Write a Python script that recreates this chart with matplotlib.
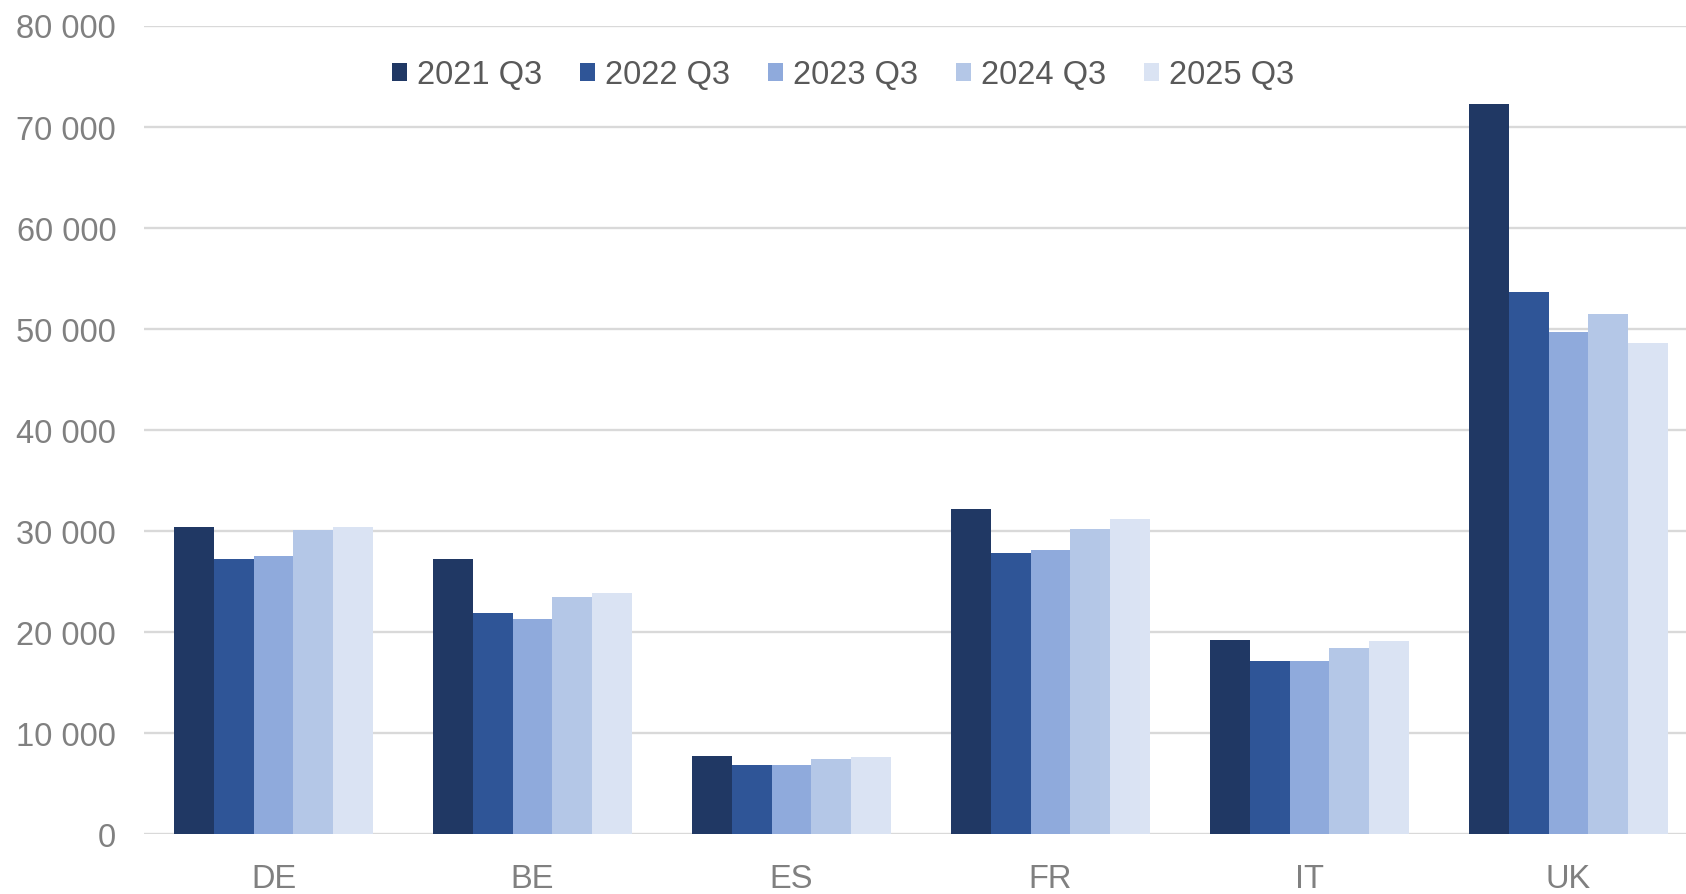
import matplotlib.pyplot as plt
from matplotlib.patches import Patch
import numpy as np

plt.rcParams['font.family'] = ['Liberation Sans', 'DejaVu Sans']

countries = ['DE', 'BE', 'ES', 'FR', 'IT', 'UK']
periods = ['2021 Q3', '2022 Q3', '2023 Q3', '2024 Q3', '2025 Q3']
v2021 = [30400, 27200, 7750, 32150, 19200, 72200]
v2022 = [27200, 21900, 6800, 27800, 17150, 53650]
v2023 = [27500, 21300, 6800, 28150, 17150, 49650]
v2024 = [30100, 23500, 7450, 30200, 18400, 51450]
v2025 = [30400, 23800, 7650, 31200, 19050, 48600]
series = [v2021, v2022, v2023, v2024, v2025]
colors = ['#203864', '#2F5597', '#8FAADC', '#B4C7E7', '#DAE3F3']

grey = '#808080'
fig = plt.figure(figsize=(16.86, 8.95), dpi=100)
ax = fig.add_axes([144 / 1686, 60 / 895, 1 - 144 / 1686, 808.5 / 895])

x = np.arange(len(countries))
w = 1 / 6.5
for i, vals in enumerate(series):
    ax.bar(x + (i - 2) * w, vals, width=w, color=colors[i], zorder=3,
           edgecolor='none')

ax.set_xlim(-0.5, -0.5 + 1542 / 259)
ax.set_ylim(0, 80000)
ax.set_yticks(np.arange(0, 80001, 10000))
ax.set_yticklabels(['0' if v == 0 else f'{v // 1000} 000' for v in range(0, 80001, 10000)])
ax.set_xticks(x)
ax.set_xticklabels(countries)
ax.tick_params(axis='y', length=0, pad=20, labelsize=23.5, labelcolor=grey)
ax.tick_params(axis='x', length=0, pad=21, labelsize=23.5, labelcolor=grey)
ax.grid(axis='y', color='#d9d9d9', linewidth=1.7, zorder=0)
for s in ax.spines.values():
    s.set_visible(False)

handles = [Patch(facecolor=c, edgecolor='none') for c in colors]
fig.legend(handles, periods, loc='center', bbox_to_anchor=(0.5, 1 - 76 / 895),
           ncol=5, frameon=False, fontsize=23.5, labelcolor='#595959',
           handlelength=0.48, handleheight=0.48, handletextpad=0.3,
           columnspacing=1.15)

fig.savefig('out.png', dpi=100)
